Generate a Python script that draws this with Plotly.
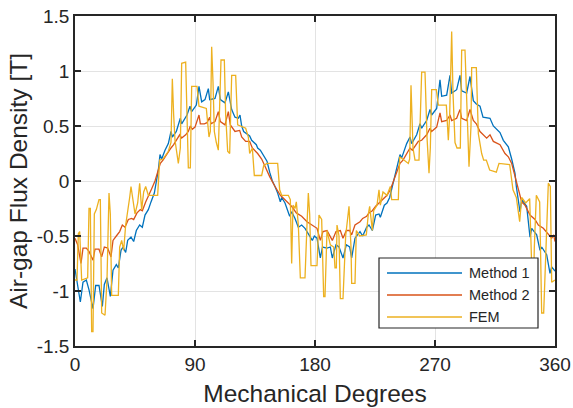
import plotly.graph_objects as go

# ---------------- data ----------------
deg_m1 = [0, 2, 4, 6, 8.5, 10.5, 13.5, 15.5, 18, 20.5, 22, 24, 26.5, 28.5, 31, 32.5, 34.5, 36, 38, 39.5,
          42, 44, 46, 48.5, 50.5, 52.5, 55, 57, 59.5, 62.5, 63.75, 65, 67.5, 70, 72, 73, 76, 79, 80, 84,
          86.25, 87.5, 91, 93, 95, 97.5, 100, 101, 105, 107.5, 109, 112.5, 115, 117.5, 120, 122.5, 123.75, 125, 126.5, 131,
          132.5, 136, 137, 139, 141, 144, 146, 148, 150, 152, 154, 155, 157.5, 161, 162.5, 165, 167.5, 170, 172.5, 176,
          178, 179.5, 181.5, 184, 185.6, 189, 191.5, 193, 195.75, 198, 201, 203.5, 206, 207.5, 210, 213.75, 215.75, 218.75, 220.5, 223,
          225.5, 228, 229, 232, 234, 236, 239, 240, 241.5, 243.75, 245, 248.75, 251.25, 252.5, 256.25, 258.75, 260, 263.75, 266.25, 267.5,
          271.25, 273.75, 275, 278.75, 281.25, 282.5, 286.25, 288.75, 290, 293.75, 296.25, 298.75, 301, 303.75, 306, 311.25, 313.75, 318.75, 321.25, 325,
          327.5, 330, 331, 333.75, 335, 338.75, 341.25, 342.5, 346.25, 348.75, 350, 353.75, 356.25, 357.5, 360]
method1 = [-0.80, -0.95, -1.10, -0.92, -0.90, -0.99, -1.16, -0.95, -0.95, -1.14, -0.94, -0.88, -1.05, -0.81, -0.76, -0.79, -0.63, -0.60, -0.65, -0.54,
           -0.51, -0.55, -0.45, -0.40, -0.42, -0.31, -0.26, -0.19, -0.11, 0.10, 0.24, 0.20, 0.28, 0.34, 0.45, 0.40, 0.45, 0.57, 0.52, 0.60,
           0.68, 0.63, 0.69, 0.86, 0.72, 0.74, 0.84, 0.74, 0.75, 0.86, 0.74, 0.71, 0.81, 0.65, 0.58, 0.57, 0.60, 0.50, 0.45, 0.41,
           0.37, 0.33, 0.30, 0.28, 0.24, 0.18, 0.08, 0.00, -0.05, -0.11, -0.19, -0.15, -0.20, -0.32, -0.28, -0.34, -0.42, -0.40, -0.43, -0.50,
           -0.54, -0.50, -0.52, -0.70, -0.60, -0.61, -0.60, -0.70, -0.58, -0.60, -0.70, -0.58, -0.60, -0.70, -0.52, -0.46, -0.50, -0.42, -0.40, -0.45,
           -0.31, -0.30, -0.33, -0.22, -0.20, -0.15, 0.00, 0.05, 0.10, 0.24, 0.21, 0.34, 0.40, 0.34, 0.42, 0.52, 0.48, 0.55, 0.65, 0.60,
           0.66, 0.92, 0.77, 0.78, 0.96, 0.80, 0.83, 0.96, 0.82, 0.80, 0.95, 0.73, 0.70, 0.68, 0.58, 0.57, 0.50, 0.44, 0.37, 0.31,
           0.20, 0.07, -0.05, -0.28, -0.17, -0.23, -0.51, -0.43, -0.49, -0.63, -0.60, -0.67, -0.84, -0.78, -0.82]

deg_m2 = [0, 2, 4.5, 6, 8.5, 10.5, 13.5, 15, 18, 20, 22, 24.5, 27, 28.5, 31, 33.5, 35.5, 37.5, 40, 42.5,
          44, 46.5, 49, 50.5, 53, 55.5, 57.5, 60, 61, 64, 66, 69, 72, 74, 76, 78.5, 80, 83, 85, 86.5,
          88, 90, 93, 94, 97, 99, 101, 102, 105, 107.5, 109, 112.5, 115, 116.5, 120, 123.5, 125, 128, 131, 133,
          137, 140, 143, 146, 150, 154, 157.5, 162.5, 166, 170, 174, 177.75, 180, 181.5, 184, 186, 189, 193, 195.75, 199,
          201, 203.5, 206, 207.5, 210, 213.75, 215.75, 218.75, 220.5, 223, 225.5, 228, 230.5, 234, 236.5, 239, 241.5, 243.75, 246, 250,
          251.25, 253, 257.5, 260, 263.75, 266.25, 267.5, 271.25, 273.75, 275, 278.75, 281.25, 282.5, 286.25, 288.75, 290, 293.75, 296.25, 298.75, 301,
          303.75, 308.75, 311.25, 313.75, 318.75, 322.5, 325, 327.5, 331, 333, 335, 337.5, 341.25, 345, 347.5, 351.25, 355, 357.5, 359, 360]
method2 = [-0.52, -0.58, -0.75, -0.61, -0.61, -0.64, -0.72, -0.62, -0.62, -0.69, -0.60, -0.61, -0.69, -0.54, -0.50, -0.46, -0.40, -0.42, -0.35, -0.34,
           -0.35, -0.29, -0.26, -0.27, -0.19, -0.13, -0.07, 0.00, 0.04, 0.16, 0.19, 0.25, 0.30, 0.33, 0.37, 0.42, 0.39, 0.42, 0.45, 0.50,
           0.47, 0.49, 0.60, 0.52, 0.52, 0.53, 0.58, 0.52, 0.54, 0.63, 0.54, 0.51, 0.63, 0.51, 0.45, 0.46, 0.40, 0.36, 0.36, 0.30,
           0.25, 0.20, 0.12, 0.04, -0.05, -0.13, -0.17, -0.23, -0.29, -0.32, -0.37, -0.40, -0.42, -0.43, -0.54, -0.46, -0.45, -0.54, -0.46, -0.45,
           -0.52, -0.45, -0.45, -0.49, -0.40, -0.37, -0.34, -0.32, -0.29, -0.27, -0.23, -0.20, -0.17, -0.13, -0.08, 0.00, 0.08, 0.16, 0.19, 0.27,
           0.30, 0.28, 0.36, 0.37, 0.42, 0.48, 0.45, 0.49, 0.62, 0.54, 0.55, 0.60, 0.55, 0.57, 0.65, 0.57, 0.55, 0.65, 0.55, 0.52,
           0.45, 0.39, 0.42, 0.36, 0.33, 0.25, 0.22, 0.16, 0.00, -0.10, -0.19, -0.22, -0.31, -0.35, -0.40, -0.43, -0.48, -0.52, -0.49, -0.55]

deg_fem = [0, 1.5, 2.5, 3.5, 5, 9.5, 10.5, 11.5, 12.5, 13.5, 14.5, 16, 18, 19, 20, 22.5, 24, 25.5, 26.5, 27.5,
           32.5, 33.5, 35, 36.5, 38, 39.5, 41, 42, 43.5, 45, 47, 48.5, 50, 51.5, 53, 55, 62, 63.5, 66, 70,
           72, 73, 74, 75, 77.5, 79, 80, 83, 84, 85, 86.5, 87.5, 91.5, 93, 98.5, 100.5, 101.5, 102.5, 103.5, 104.5,
           106, 107.5, 109.5, 112, 113, 114.5, 116, 117.5, 120.5, 122, 128, 130, 131, 133, 134.5, 140, 141.5, 144, 152, 153.5,
           155, 160, 161.5, 162.5, 163.5, 165, 166, 167.5, 169, 172.5, 174, 175, 176, 177, 181.5, 183, 185, 186.5, 187.5, 189,
           191.5, 194, 195, 196, 196.5, 198, 199, 201, 203, 205.5, 207, 207.5, 210, 211, 213.5, 218.5, 220, 221, 223, 224,
           226.5, 228, 229, 231, 234, 236.5, 237.5, 242.5, 243.5, 250, 251, 252, 253.5, 255, 258, 260, 262.5, 264, 265.5, 266.5,
           267.5, 271, 272.5, 278.5, 280, 281, 282.5, 283.5, 285, 286.5, 289, 290, 292.5, 294, 295.5, 297, 297.5, 301, 302.5, 305,
           306.5, 308.5, 311, 316, 318, 326, 328.5, 331, 333.5, 335, 338, 341, 342.5, 343.5, 344.5, 346, 348.5, 350, 351.5, 353,
           355, 356.5, 357.5, 360]
fem = [-0.90, -0.90, -0.48, -0.46, -0.90, -0.88, -0.25, -0.25, -1.37, -1.37, -0.30, -0.26, -0.17, -0.17, -1.20, -1.22, -0.90, -0.11, -0.30, -1.04,
       -1.04, -0.60, -0.54, -0.63, -0.40, -0.29, -0.15, -0.05, -0.16, -0.30, -0.20, -0.02, -0.26, -0.10, -0.05, -0.13, -0.13, 0.19, 0.20, 0.27,
       0.35, 0.93, 0.60, 0.37, 0.16, 0.30, 1.07, 1.08, 0.60, 0.12, 0.12, 0.86, 0.86, 0.68, 0.66, 0.40, 0.45, 1.22, 0.90, 0.45,
       0.35, 0.28, 1.10, 1.10, 0.60, 0.27, 0.25, 0.96, 0.96, 0.51, 0.48, 0.40, 0.25, 0.30, 0.05, 0.05, 0.14, 0.16, 0.16, -0.08,
       -0.13, -0.13, -0.17, -0.75, -0.22, -0.25, -0.19, -0.40, -0.88, -0.88, -0.40, -0.11, -0.30, -0.77, -0.77, -0.31, -0.35, -1.05, -1.05, -0.45,
       -0.58, -0.60, -0.79, -0.79, -0.40, -0.50, -1.07, -1.07, -0.50, -0.23, -0.60, -0.93, -0.93, -0.45, -0.50, -0.49, -0.30, -0.23, -0.45, -0.27,
       -0.22, -0.08, -0.22, -0.10, -0.13, -0.05, -0.17, -0.17, 0.22, 0.16, 0.20, 0.87, 0.30, 0.19, 0.19, 0.99, 0.99, 0.40, 0.07, 0.30,
       0.83, 0.83, 0.69, 0.69, 0.37, 0.60, 1.36, 0.80, 0.35, 0.30, 0.30, 1.19, 1.19, 0.60, 0.13, 0.50, 1.03, 1.03, 0.43, 0.25,
       0.19, 0.19, 0.10, 0.08, 0.16, 0.15, -0.08, -0.15, -0.37, -0.15, -0.20, -0.16, -0.80, -1.17, -0.60, -0.13, -0.19, -1.20, -1.20, -0.60,
       -0.02, -0.05, -0.92, -0.90]

x_ticks = [0, 90, 180, 270, 360]
y_ticks = [-1.5, -1, -0.5, 0, 0.5, 1, 1.5]
y_tick_labels = ["-1.5", "-1", "-0.5", "0", "0.5", "1", "1.5"]
series_names = ["Method 1", "Method 2", "FEM"]
series_colors = ["#0072BD", "#D95319", "#EDB120"]

FONT = "Liberation Sans, Arial, sans-serif"
TXT = "#262626"

fig = go.Figure()
for name, xs, ys, col in zip(series_names, [deg_m1, deg_m2, deg_fem], [method1, method2, fem], series_colors):
    fig.add_trace(go.Scatter(x=xs, y=ys, mode="lines", name=name, showlegend=False,
                             line=dict(color=col, width=1.3)))

axis_common = dict(showline=True, linecolor=TXT, linewidth=1.6, mirror="ticks",
                   ticks="inside", ticklen=6, tickwidth=1.6, tickcolor=TXT,
                   showgrid=True, gridcolor="#e3e3e3", gridwidth=1.3, zeroline=False,
                   automargin=False, ticklabeloverflow="allow",
                   tickfont=dict(family=FONT, size=19, color=TXT))

fig.update_xaxes(range=[0, 360], tickvals=x_ticks, ticktext=[str(v) for v in x_ticks],
                 title=dict(text="Mechanical Degrees", font=dict(family=FONT, size=24.5, color=TXT), standoff=11),
                 **axis_common)
fig.update_yaxes(range=[-1.5, 1.5], tickvals=y_ticks, ticktext=y_tick_labels,
                 title=dict(text="Air-gap Flux Density [T]", font=dict(family=FONT, size=24.5, color=TXT), standoff=2),
                 **axis_common)

# figure fills the whole 573x408 window (page margin removed below)
W, H = 573, 408
# plot-area edges in window pixels
L, R, T, B = 75, 555, 16, 346

def px(x):
    return (x - L) / (R - L)
def py(y):
    return (B - y) / (B - T)

shapes = [dict(type="rect", xref="paper", yref="paper", x0=px(379), x1=px(538), y0=py(328), y1=py(258),
               line=dict(color=TXT, width=1.2), fillcolor="white", layer="above")]
annotations = []
rows = [273, 295, 317]
for name, col, ry in zip(series_names, series_colors, rows):
    shapes.append(dict(type="line", xref="paper", yref="paper", x0=px(387), x1=px(462), y0=py(ry), y1=py(ry),
                       line=dict(color=col, width=1.3), layer="above"))
    annotations.append(dict(text=name, xref="paper", yref="paper", x=px(467), y=py(ry), xanchor="left",
                            yanchor="middle", showarrow=False, font=dict(family=FONT, size=14.5, color=TXT)))

fig.update_layout(width=W, height=H,
                  margin=dict(l=L, r=W - R, t=T, b=H - B, autoexpand=False),
                  paper_bgcolor="white", plot_bgcolor="white", showlegend=False,
                  shapes=shapes, annotations=annotations)

page_css = ("document.documentElement.style.margin='0';document.documentElement.style.overflow='hidden';"
            "document.body.style.margin='0';document.body.style.overflow='hidden';")
fig.write_html("out.html", post_script=page_css, config={"displayModeBar": False})
